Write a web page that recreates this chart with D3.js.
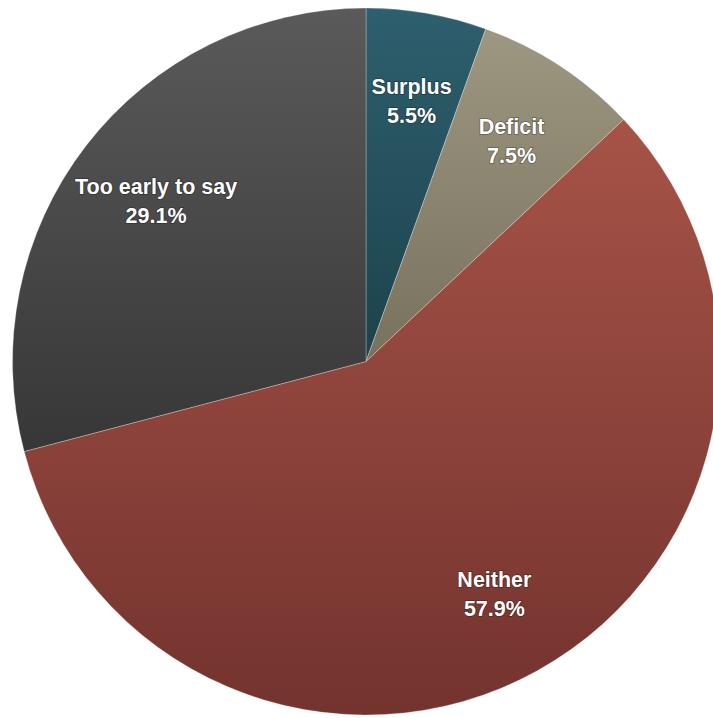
<!DOCTYPE html>
<html>
<head>
<meta charset="utf-8">
<script src="https://cdn.jsdelivr.net/npm/d3@7"></script>
<style>
  html, body { margin: 0; padding: 0; background: #ffffff; }
  svg { display: block; }
  .lbl { font-family: "Liberation Sans", Arial, Helvetica, sans-serif; font-weight: bold; font-size: 21.5px; fill: #ffffff; paint-order: stroke; stroke: rgba(0,0,0,0.35); stroke-width: 1.6px; }
</style>
</head>
<body>
<svg id="chart" width="713" height="718"></svg>
<script>
const categories = ["Surplus", "Deficit", "Neither", "Too early to say"];
const values = [5.5, 7.5, 57.9, 29.1];
const valueLabels = ["5.5%", "7.5%", "57.9%", "29.1%"];
const topColors = ["#2e5f6e", "#a09a84", "#b0594c", "#5a5a5a"];
const bottomColors = ["#0a2628", "#4e4738", "#73332e", "#222222"];

const width = 713, height = 718;
const cx = 366, cy = 361.5, R = 353.5;

const svg = d3.select("#chart");
const defs = svg.append("defs");
categories.forEach((c, i) => {
  const g = defs.append("linearGradient")
    .attr("id", "grad" + i)
    .attr("gradientUnits", "userSpaceOnUse")
    .attr("x1", 0).attr("x2", 0)
    .attr("y1", -R).attr("y2", R);
  g.append("stop").attr("offset", "0%").attr("stop-color", topColors[i]);
  g.append("stop").attr("offset", "100%").attr("stop-color", bottomColors[i]);
});

const data = categories.map((c, i) => ({ cat: c, value: values[i], label: valueLabels[i], i }));
const pie = d3.pie().value(d => d.value).sort(null);
const arcs = pie(data);
const arc = d3.arc().innerRadius(0).outerRadius(R);
const labelArc = d3.arc().innerRadius(265).outerRadius(265);

const g = svg.append("g").attr("transform", `translate(${cx},${cy})`);

g.selectAll("path.slice")
  .data(arcs)
  .join("path")
  .attr("class", "slice")
  .attr("d", arc)
  .attr("fill", d => `url(#grad${d.data.i})`)
  .attr("stroke", "rgba(255,255,255,0.35)")
  .attr("stroke-width", 0.8);

const lbl = g.selectAll("text.lbl")
  .data(arcs)
  .join("text")
  .attr("class", "lbl")
  .attr("text-anchor", "middle")
  .attr("transform", d => { const [x, y] = labelArc.centroid(d); return `translate(${x},${y})`; });
lbl.append("tspan").attr("x", 0).attr("y", -6).text(d => d.data.cat);
lbl.append("tspan").attr("x", 0).attr("y", 23).text(d => d.data.label);
</script>
</body>
</html>
